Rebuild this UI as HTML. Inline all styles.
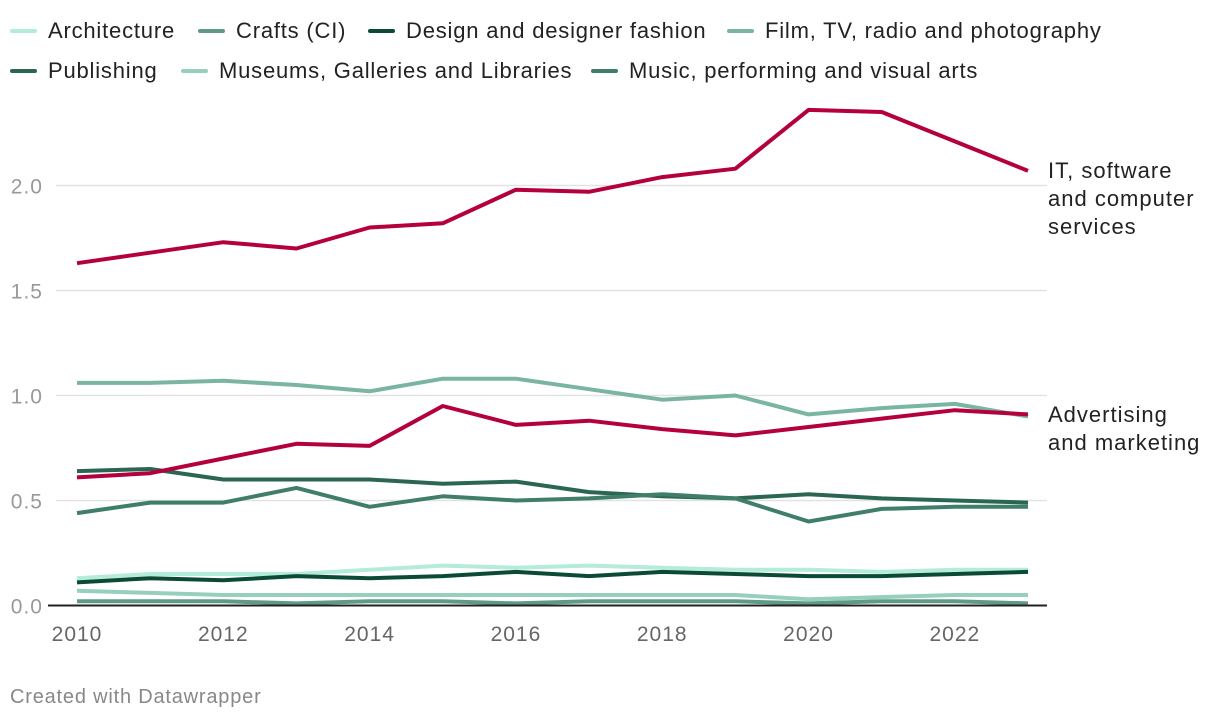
<!DOCTYPE html>
<html><head><meta charset="utf-8"><style>
body{margin:0;background:#fff;font-family:"Liberation Sans",sans-serif;}
#wrap{position:relative;width:1220px;height:724px;overflow:hidden}
.leg{position:absolute;font-size:22px;color:#222;display:flex;align-items:center;white-space:nowrap;letter-spacing:0.8px}
.leg i{display:inline-block;width:27px;height:4px;border-radius:2px;margin-right:11px}
</style></head><body><div id="wrap">
<div id="legend"></div>
<svg id="svg" width="1220" height="724" style="position:absolute;left:0;top:0"></svg>
<div style="position:absolute;left:10px;top:686px;font-size:20px;letter-spacing:0.8px;color:#888">Created with Datawrapper</div>
</div>
<script>
const years=[2010,2011,2012,2013,2014,2015,2016,2017,2018,2019,2020,2021,2022,2023];
const yTicks=[0,0.5,1,1.5,2];
const xTicks=[2010,2012,2014,2016,2018,2020,2022];
const architecture=[0.13,0.15,0.15,0.15,0.17,0.19,0.18,0.19,0.18,0.17,0.17,0.16,0.17,0.17];
const crafts=[0.02,0.02,0.02,0.01,0.02,0.02,0.01,0.02,0.02,0.02,0.01,0.02,0.02,0.01];
const design=[0.11,0.13,0.12,0.14,0.13,0.14,0.16,0.14,0.16,0.15,0.14,0.14,0.15,0.16];
const film=[1.06,1.06,1.07,1.05,1.02,1.08,1.08,1.03,0.98,1.00,0.91,0.94,0.96,0.90];
const publishing=[0.64,0.65,0.60,0.60,0.60,0.58,0.59,0.54,0.52,0.51,0.53,0.51,0.50,0.49];
const museums=[0.07,0.06,0.05,0.05,0.05,0.05,0.05,0.05,0.05,0.05,0.03,0.04,0.05,0.05];
const music=[0.44,0.49,0.49,0.56,0.47,0.52,0.50,0.51,0.53,0.51,0.40,0.46,0.47,0.47];
const it=[1.63,1.68,1.73,1.70,1.80,1.82,1.98,1.97,2.04,2.08,2.36,2.35,2.21,2.07];
const advertising=[0.61,0.63,0.70,0.77,0.76,0.95,0.86,0.88,0.84,0.81,0.85,0.89,0.93,0.91];
const NS="http://www.w3.org/2000/svg";
const svg=document.getElementById('svg');
const x=v=>77+(v-2010)*(1028-77)/13;
const y=v=>605.5-v*210;
function mk(t,a){const e=document.createElementNS(NS,t);for(const k in a)e.setAttribute(k,a[k]);svg.appendChild(e);return e;}
yTicks.forEach(t=>{
 if(t>0){const g=mk('line',{x1:56,x2:1047,y1:y(t),y2:y(t),stroke:'#e2e2e2','stroke-width':1.5});
 
 }
 const l=mk('text',{x:43,y:y(t)+8,'text-anchor':'end','font-size':21,'letter-spacing':1,fill:'#999'});l.textContent=t.toFixed(1);
 
 
});
xTicks.forEach(t=>{const l=mk('text',{x:x(t),y:641,'text-anchor':'middle','font-size':21,'letter-spacing':1,fill:'#666'});l.textContent=t;
 
 });
const series=[
 ['Architecture',architecture,'#b3ecd9'],['Crafts (CI)',crafts,'#5e9a86'],['Design and designer fashion',design,'#0b4a36'],
 ['Film, TV, radio and photography',film,'#7ab5a0'],['Publishing',publishing,'#2a6651'],['Museums, Galleries and Libraries',museums,'#97d0ba'],
 ['Music, performing and visual arts',music,'#3f7e68'],['IT',it,'#b4003c'],['Advertising',advertising,'#b4003c']];
series.forEach(s=>{
 const p=mk('polyline',{points:s[1].map((v,i)=>x(years[i])+','+y(v)).join(' '),fill:'none',stroke:s[2],'stroke-width':4,'stroke-linejoin':'round'});
 
 
});
const base=mk('line',{x1:48,x2:1047,y1:605.5,y2:605.5,stroke:'#222','stroke-width':2});


function lbl(lines,ty,name){const t=mk('text',{x:1048,y:ty,'font-size':22,'letter-spacing':1,fill:'#222'});
 
 
 lines.forEach((s,i)=>{const ts=document.createElementNS(NS,'tspan');ts.setAttribute('x',1048);ts.setAttribute('dy',i?28:0);ts.textContent=s;t.appendChild(ts);});}
lbl(['IT, software','and computer','services'],178,'label-it');
lbl(['Advertising','and marketing'],422,'label-advertising');
const leg=document.getElementById('legend');
const pos=[[10,18],[198,18],[368,18],[727,18],[10,58],[181,58],[591,58]];
series.slice(0,7).forEach((s,i)=>{const d=document.createElement('div');d.className='leg';
 d.style.left=pos[i][0]+'px';d.style.top=pos[i][1]+'px';
 d.innerHTML='<i style="background:'+s[2]+'"></i>'+s[0];
 
 
 leg.appendChild(d);});
</script></body></html>
